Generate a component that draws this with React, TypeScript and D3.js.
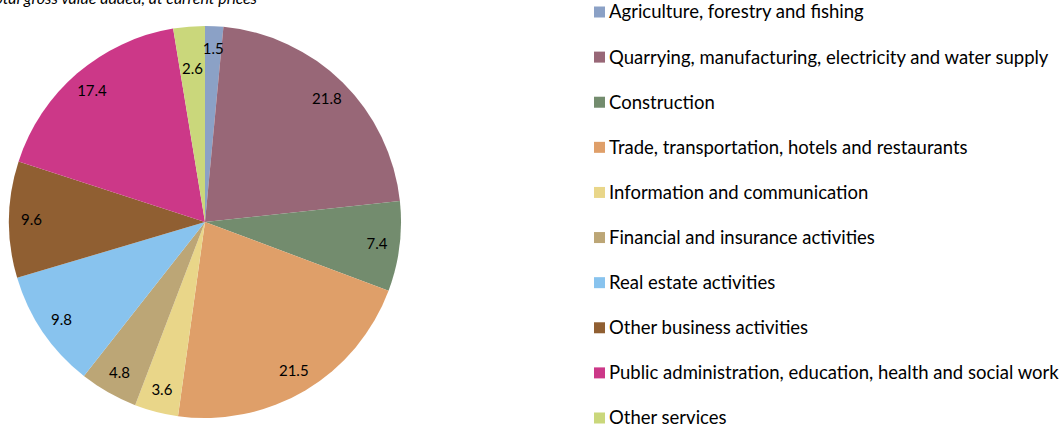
import React, { useEffect, useRef } from "react";
import * as d3 from "d3";

const categories = [
  "Agriculture, forestry and fishing",
  "Quarrying, manufacturing, electricity and water supply",
  "Construction",
  "Trade, transportation, hotels and restaurants",
  "Information and communication",
  "Financial and insurance activities",
  "Real estate activities",
  "Other business activities",
  "Public administration, education, health and social work",
  "Other services",
];
const shares = [1.5, 21.8, 7.4, 21.5, 3.6, 4.8, 9.8, 9.6, 17.4, 2.6];
const colors = [
  "#8ba1c6", "#986777", "#738c6e", "#df9f69", "#e9d689",
  "#bca676", "#88c3ee", "#905f32", "#cc3888", "#cad77b",
];
const titleText = "Structure of total gross value added, at current prices";
const sourceText = "Source: Statistics Austria";

const App = () => {
  const svgRef = useRef<SVGSVGElement>(null);

  useEffect(() => {
    const svg = d3.select(svgRef.current);
    svg.selectAll("*").remove();

    const cx = 205, cy = 222, r = 196;
    const font = "'Lato', 'Open Sans', sans-serif";

    const pie = d3.pie<number>().sort(null).value(d => d);
    const arcs = pie(shares);
    const arc = d3.arc<d3.PieArcDatum<number>>().innerRadius(0).outerRadius(r);

    const g = svg.append("g").attr("transform", `translate(${cx},${cy})`);
    g.selectAll("path")
      .data(arcs)
      .join("path")
      .attr("d", arc)
      .attr("fill", (_, i) => colors[i]);

    // label positions, pulled inward when they would collide with the previous one
    const placed: { x: number; y: number }[] = [];
    const pos = arcs.map(d => {
      const a = (d.startAngle + d.endAngle) / 2;
      let k = 0.885;
      let p = { x: Math.sin(a) * r * k, y: -Math.cos(a) * r * k };
      const hits = (q: { x: number; y: number }) =>
        placed.some(o => Math.abs(o.x - q.x) < 26 && Math.abs(o.y - q.y) < 18);
      while (hits(p) && k > 0.4) {
        k -= 0.01;
        p = { x: Math.sin(a) * r * k, y: -Math.cos(a) * r * k };
      }
      placed.push(p);
      return p;
    });

    g.selectAll("text")
      .data(arcs)
      .join("text")
      .attr("x", (_, i) => pos[i].x)
      .attr("y", (_, i) => pos[i].y)
      .attr("text-anchor", "middle")
      .attr("dy", "0.35em")
      .attr("font-family", font)
      .attr("font-size", 15)
      .attr("fill", "#000")
      .text(d => d.data.toFixed(1));

    // title and source (partly cut off in the original)
    svg.append("text")
      .attr("x", 257).attr("y", 4)
      .attr("text-anchor", "end")
      .attr("font-family", font)
      .attr("font-style", "italic")
      .attr("font-size", 16)
      .text(titleText);

    svg.append("text")
      .attr("x", -2).attr("y", 440)
      .attr("font-family", font)
      .attr("font-weight", "bold")
      .attr("font-size", 14)
      .text(sourceText);

    // legend
    const ly = d3.scalePoint<string>().domain(categories).range([12, 418]);
    const rows = svg.append("g").selectAll("g")
      .data(categories)
      .join("g")
      .attr("transform", d => `translate(594,${ly(d)})`);
    rows.append("rect")
      .attr("x", 0).attr("y", -5.5)
      .attr("width", 11).attr("height", 11)
      .attr("fill", (_, i) => colors[i]);
    rows.append("text")
      .attr("x", 15).attr("dy", "0.35em")
      .attr("font-family", font)
      .attr("font-size", 18.5)
      .attr("fill", "#000")
      .text(d => d);
  }, []);

  return (
    <svg ref={svgRef} width={1063} height={429}
      style={{ position: "absolute", left: 0, top: 0, background: "#fff" }} />
  );
};

export default App;
